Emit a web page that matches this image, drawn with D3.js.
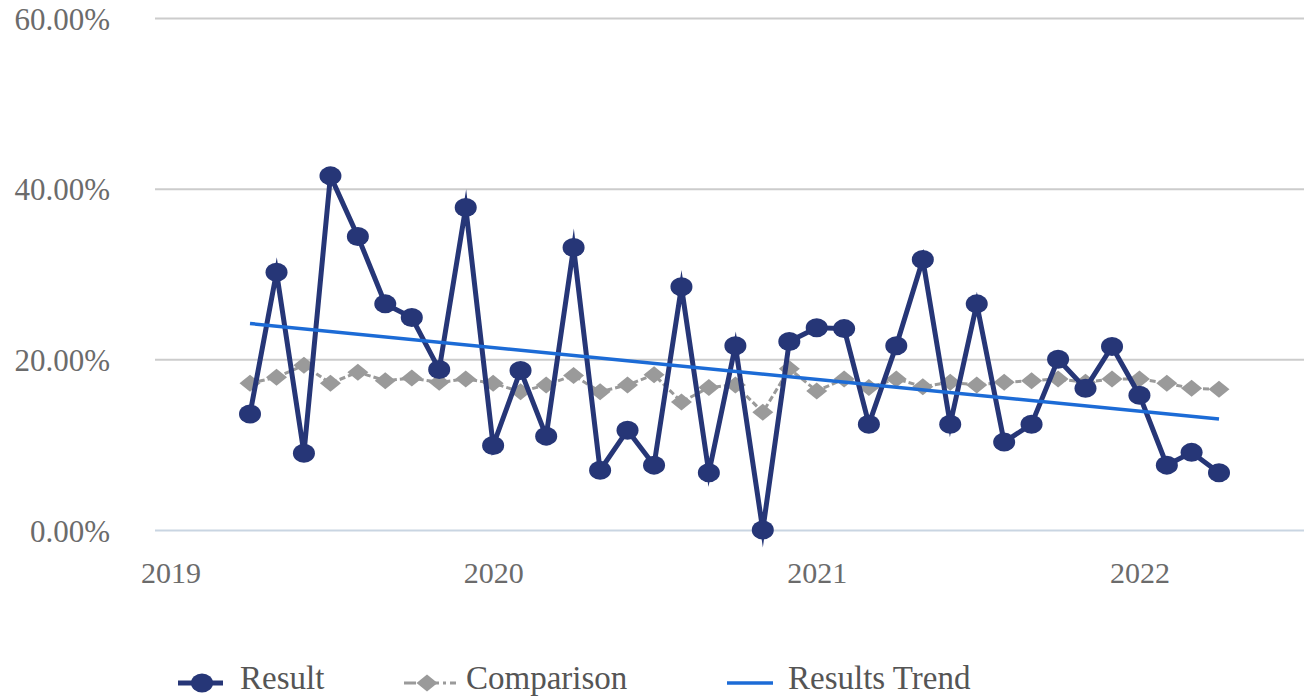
<!DOCTYPE html>
<html><head><meta charset="utf-8">
<script src="https://cdn.jsdelivr.net/npm/d3@7"></script>
<style>html,body{margin:0;padding:0;background:#fff;}svg{display:block;}</style>
</head><body>
<svg id="chart" width="1304" height="699"></svg>
<script>
const months = ["2019-04","2019-05","2019-06","2019-07","2019-08","2019-09","2019-10","2019-11","2019-12",
"2020-01","2020-02","2020-03","2020-04","2020-05","2020-06","2020-07","2020-08","2020-09","2020-10","2020-11","2020-12",
"2021-01","2021-02","2021-03","2021-04","2021-05","2021-06","2021-07","2021-08","2021-09","2021-10","2021-11","2021-12",
"2022-01","2022-02","2022-03","2022-04"];
const resultValues = [13.6,30.2,9.0,41.5,34.4,26.5,24.9,18.8,37.8,
9.9,18.7,11.0,33.1,7.0,11.7,7.6,28.5,6.7,21.6,0.0,22.1,
23.7,23.6,12.4,21.6,31.7,12.4,26.5,10.3,12.4,20.0,16.6,21.5,
15.8,7.6,9.1,6.7];
const comparisonValues = [17.2,17.9,19.3,17.2,18.5,17.5,17.8,17.3,17.7,
17.2,16.2,17.0,18.1,16.2,17.0,18.2,15.0,16.7,17.0,13.8,18.9,
16.3,17.7,16.7,17.7,16.8,17.3,17.0,17.3,17.5,17.7,17.3,17.7,
17.7,17.2,16.6,16.5];
const trendMonths = ["2019-04","2022-04"];
const trendValues = [24.2,13.0];
const yTicks = [0,20,40,60];
const yTickLabels = ["0.00%","20.00%","40.00%","60.00%"];
const xTickYears = [2019,2020,2021,2022];
const seriesNames = ["Result","Comparison","Results Trend"];

const parse = d3.timeParse("%Y-%m");
const svg = d3.select("#chart");
const x = d3.scaleTime().domain([parse("2019-04"), parse("2022-04")]).range([250,1219]);
const y = d3.scaleLinear().domain([0,60]).range([530,18]);

const NAVY = "#263677", GRAY = "#9a9a9a", BLUE = "#1c6bd6";
const FONT = "'Liberation Serif','Times New Roman',serif";

// gridlines
const yAxis = d3.axisLeft(y).tickValues(yTicks).tickFormat((d,i)=>yTickLabels[i]).tickSize(0);
const gy = svg.append("g").attr("transform","translate(155,0)").call(yAxis);
gy.select(".domain").remove();
gy.selectAll(".tick line").attr("x2",1304-155).attr("stroke",d=>d===0?"#c9d5e2":"#cccccc").attr("stroke-width",2);
gy.selectAll(".tick text").attr("x",-45).attr("dy","0.36em").attr("font-family",FONT).attr("font-size",31).attr("fill","#6b6b6b").attr("text-anchor","end");

// x axis labels
const xAxis = d3.axisBottom(x).tickValues(xTickYears.map(yr=>new Date(yr,0,1))).tickFormat(d3.timeFormat("%Y")).tickSize(0);
const gx = svg.append("g").attr("transform","translate(0,530)").call(xAxis);
gx.select(".domain").remove();
gx.selectAll(".tick text").attr("y",53).attr("dy",0).attr("font-family",FONT).attr("font-size",30).attr("fill","#6b6b6b");

const resData = months.map((m,i)=>({d:parse(m),v:resultValues[i]}));
const cmpData = months.map((m,i)=>({d:parse(m),v:comparisonValues[i]}));
const trdData = trendMonths.map((m,i)=>({d:parse(m),v:trendValues[i]}));
const line = d3.line().x(p=>x(p.d)).y(p=>y(p.v));

const diamond = (cx,cy)=>`M${cx-10.5},${cy}L${cx},${cy-8.5}L${cx+10.5},${cy}L${cx},${cy+8.5}Z`;

// comparison
svg.append("path").datum(cmpData).attr("d",line).attr("fill","none").attr("stroke",GRAY).attr("stroke-width",3).attr("stroke-dasharray","6,3");
svg.append("g").selectAll("path").data(cmpData).join("path").attr("d",p=>diamond(x(p.d),y(p.v))).attr("fill",GRAY);

// result
svg.append("path").datum(resData).attr("d",line).attr("fill","none").attr("stroke",NAVY).attr("stroke-width",5).attr("stroke-linejoin","miter").attr("stroke-miterlimit",8);
svg.append("g").selectAll("ellipse").data(resData).join("ellipse").attr("cx",p=>x(p.d)).attr("cy",p=>y(p.v)).attr("rx",11).attr("ry",9.5).attr("fill",NAVY);

// trend
svg.append("path").datum(trdData).attr("d",line).attr("fill","none").attr("stroke",BLUE).attr("stroke-width",3.5);

// legend
const lg = svg.append("g").attr("font-family",FONT).attr("font-size",33).attr("fill","#555");
const ly = 683;
lg.append("line").attr("x1",178).attr("x2",223).attr("y1",ly).attr("y2",ly).attr("stroke",NAVY).attr("stroke-width",5);
lg.append("ellipse").attr("cx",202).attr("cy",ly).attr("rx",11).attr("ry",9.5).attr("fill",NAVY);
lg.append("text").attr("x",240).attr("y",ly+6).text(seriesNames[0]);
lg.append("line").attr("x1",404).attr("x2",456).attr("y1",ly).attr("y2",ly).attr("stroke",GRAY).attr("stroke-width",3).attr("stroke-dasharray","12,4,3,4");
lg.append("path").attr("d",diamond(427,ly)).attr("fill",GRAY);
lg.append("text").attr("x",466).attr("y",ly+6).text(seriesNames[1]);
lg.append("line").attr("x1",727).attr("x2",773).attr("y1",ly).attr("y2",ly).attr("stroke",BLUE).attr("stroke-width",3.5);
lg.append("text").attr("x",788).attr("y",ly+6).text(seriesNames[2]);
</script>
</body></html>
